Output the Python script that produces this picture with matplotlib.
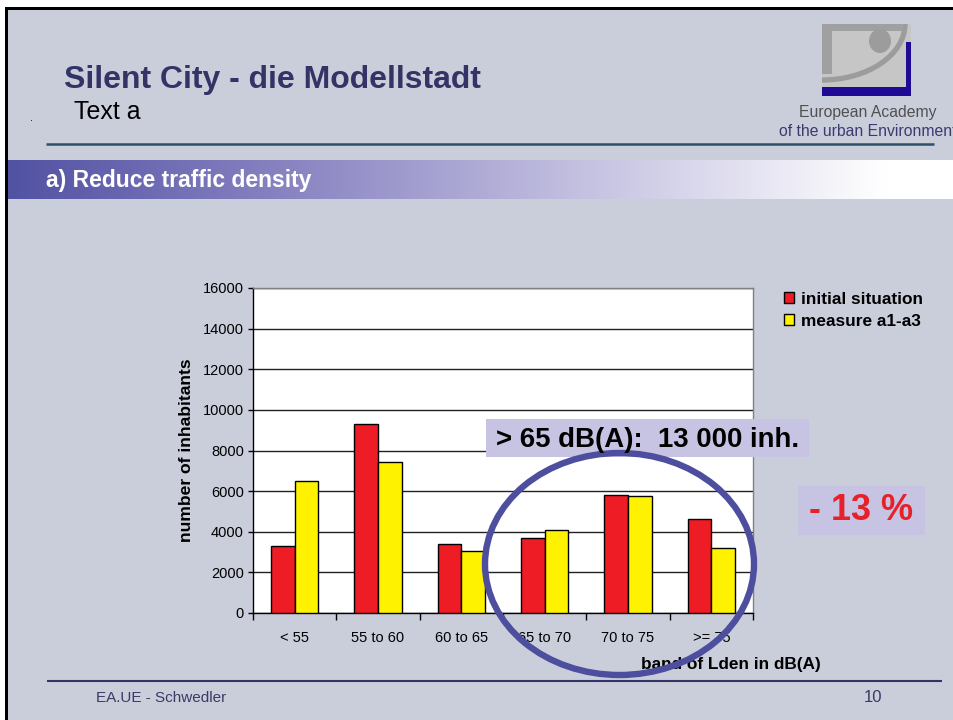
import matplotlib
matplotlib.use("Agg")
import matplotlib.pyplot as plt
import numpy as np
from matplotlib.colors import LinearSegmentedColormap
from matplotlib.patches import Arc, Ellipse, Rectangle

plt.rcParams["font.family"] = ["Liberation Sans", "DejaVu Sans"]

CATEGORIES = ["< 55", "55 to 60", "60 to 65", "65 to 70", "70 to 75", ">= 75"]
INITIAL = [3300, 9300, 3400, 3700, 5800, 4650]
MEASURE = [6500, 7450, 3050, 4100, 5750, 3200]
Y_TICKS = [0, 2000, 4000, 6000, 8000, 10000, 12000, 14000, 16000]

SLIDE_BG = "#CACEDB"
RED = "#EE1C25"
YELLOW = "#FFF200"
NAVY = "#333366"
LAVENDER = "#C6C4E2"
RING = "#4E4E9E"

W, H = 954, 720


def px_axes(fig, zorder):
    ax = fig.add_axes([0, 0, 1, 1], zorder=zorder)
    ax.set_xlim(0, W)
    ax.set_ylim(H, 0)
    ax.axis("off")
    ax.patch.set_alpha(0)
    return ax


def draw_slide(ax):
    # frame
    ax.add_patch(Rectangle((5, 7), W, H, fc="black", ec="none"))
    ax.add_patch(Rectangle((8, 10), W, H, fc=SLIDE_BG, ec="none"))

    ax.text(64, 88, "Silent City - die Modellstadt", fontsize=23, weight="bold",
            color=NAVY, va="baseline")
    ax.text(74, 119, "Text a", fontsize=18, color="black", va="baseline")
    ax.text(30, 121, ".", fontsize=8, color="black", va="baseline")

    # logo
    ax.add_patch(Rectangle((822, 24), 89, 72, fc="#C6C6C6", ec="none"))
    ax.add_patch(Rectangle((822, 24), 80, 7, fc="#A0A0A0", ec="none"))
    ax.add_patch(Rectangle((822, 24), 10, 50, fc="#A0A0A0", ec="none"))
    ax.add_patch(Arc((822, 24), 166, 112, theta1=0, theta2=90, lw=3.8, color="#9C9C9C"))
    ax.add_patch(Ellipse((880, 41), 22, 24, fc="#9C9C9C", ec="none"))
    ax.add_patch(Rectangle((822, 87), 89, 9, fc="#1F0A96", ec="none"))
    ax.add_patch(Rectangle((906, 42), 5, 54, fc="#1F0A96", ec="none"))
    ax.text(868, 117, "European Academy", fontsize=11.3, color="#505050",
            ha="center", va="baseline")
    ax.text(779, 136, "of the urban Environment", fontsize=11.3, color="#3A3A70",
            va="baseline", clip_on=True)

    ax.plot([46, 934], [144, 144], color="#2E5066", lw=1.8, solid_capstyle="butt")

    # banner gradient
    cmap = LinearSegmentedColormap.from_list(
        "banner", [(0, "#5252A3"), (0.3, "#8A84C2"), (0.6, "#C2BFE0"), (0.93, "#FFFFFF"), (1, "#FFFFFF")])
    grad = np.linspace(0, 1, 400).reshape(1, -1)
    ax.imshow(grad, extent=(8, W, 199, 160), aspect="auto", cmap=cmap, zorder=1)
    ax.text(46, 187, "a) Reduce traffic density", fontsize=16.5, weight="bold",
            color="white", va="baseline", zorder=2)

    # footer
    ax.plot([47, 942], [681, 681], color=NAVY, lw=1.5, solid_capstyle="butt")
    ax.text(96, 702, "EA.UE - Schwedler", fontsize=11, color="#3A3A66", va="baseline")
    ax.text(864, 702, "10", fontsize=12, color="#3A3A66", va="baseline")

    ax.set_xlim(0, W)
    ax.set_ylim(H, 0)


def draw_chart(fig):
    left, right, top, bottom = 253, 753, 288, 613
    ax = fig.add_axes([left / W, 1 - bottom / H, (right - left) / W, (bottom - top) / H], zorder=1)
    ax.set_facecolor("white")

    x = np.arange(len(CATEGORIES))
    bw = 1 / 3.5
    ax.bar(x - bw / 2, INITIAL, bw, color=RED, edgecolor="black", linewidth=1.0,
           label="initial situation", zorder=3)
    ax.bar(x + bw / 2, MEASURE, bw, color=YELLOW, edgecolor="black", linewidth=1.0,
           label="measure a1-a3", zorder=3)

    ax.set_xlim(-0.5, len(CATEGORIES) - 0.5)
    ax.set_ylim(0, 16000)
    ax.set_yticks(Y_TICKS)
    ax.yaxis.grid(True, color="#222222", lw=1.0)
    ax.set_axisbelow(True)

    ax.set_xticks(x)
    ax.set_xticklabels(CATEGORIES)
    ax.set_xticks(np.arange(-0.5, len(CATEGORIES)), minor=True)
    ax.tick_params(axis="x", which="major", length=0, pad=13, labelsize=10.5)
    ax.tick_params(axis="x", which="minor", length=5, width=1, direction="out")
    ax.tick_params(axis="y", length=3.6, width=1, pad=2.9, labelsize=10.5)

    for side in ("left", "bottom"):
        ax.spines[side].set_color("black")
        ax.spines[side].set_linewidth(1.0)
    for side in ("top", "right"):
        ax.spines[side].set_color("#808080")
        ax.spines[side].set_linewidth(1.0)

    ax.set_ylabel("number of inhabitants", fontsize=12.6, weight="bold")
    ax.yaxis.set_label_coords((194 - left) / 500, 0.5)
    ax.set_xlabel("band of Lden in dB(A)", fontsize=12.4, weight="bold")
    ax.xaxis.set_label_coords((731 - left) / 500, -(657 - bottom) / 325)

    ax.legend(loc="upper left", bbox_to_anchor=(784 / W, 1 - 292 / H),
              bbox_transform=fig.transFigure, frameon=False, borderpad=0,
              borderaxespad=0, handlelength=0.6, handleheight=0.6,
              handletextpad=0.36, labelspacing=0.4,
              prop={"size": 12.4, "weight": "bold"})
    return ax


def draw_overlay(ax):
    ax.add_patch(Rectangle((486, 419), 323, 38, fc=LAVENDER, ec="none"))
    ax.text(496, 447, "> 65 dB(A):  13 000 inh.", fontsize=19.9, weight="bold",
            color="black", va="baseline")
    ax.add_patch(Rectangle((798, 486), 127, 49, fc=LAVENDER, ec="none"))
    ax.text(861, 511, "- 13 %", fontsize=26, weight="bold", color="#E8202A",
            ha="center", va="center")
    ax.add_patch(Ellipse((619.5, 564), 269, 222, fc="none", ec=RING, lw=4.6))


def main():
    fig = plt.figure(figsize=(W / 100, H / 100), dpi=100, facecolor="white")
    bg = px_axes(fig, 0)
    draw_slide(bg)
    draw_chart(fig)
    top = px_axes(fig, 3)
    draw_overlay(top)
    fig.savefig("out.png", dpi=100, facecolor="white")


if __name__ == "__main__":
    main()
